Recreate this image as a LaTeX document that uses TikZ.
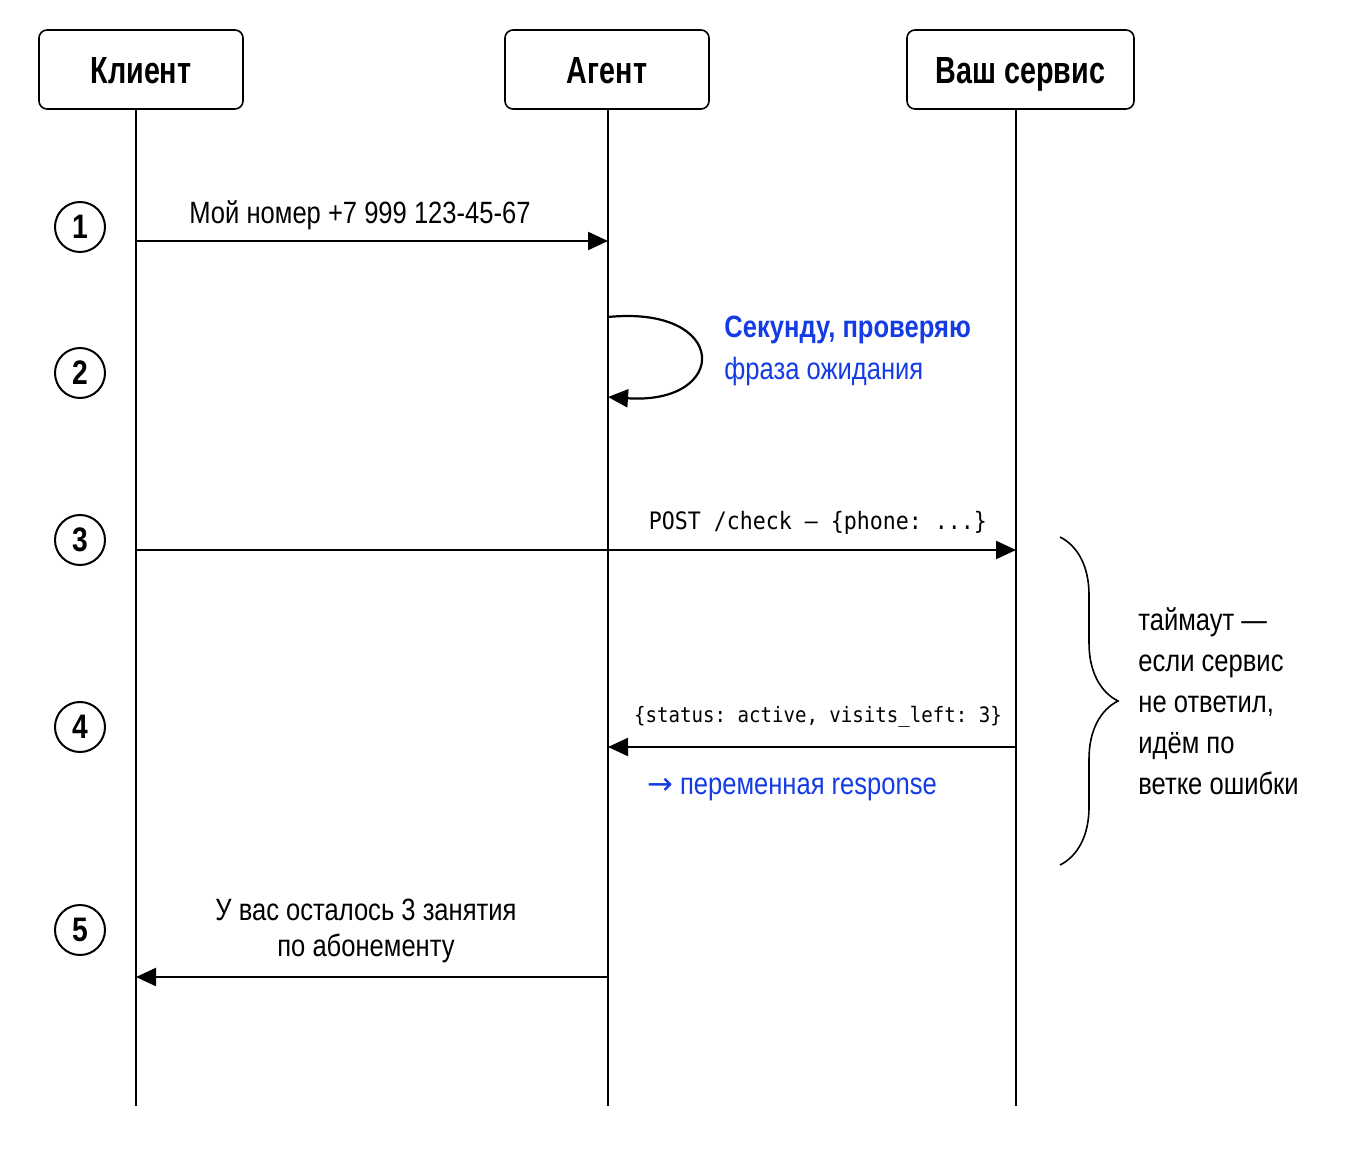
\documentclass[tikz,border=0pt]{standalone}
\usepackage{fontspec}
\setmainfont{Liberation Sans}[FakeStretch=0.83]
\newfontfamily\headfont{Liberation Sans}[FakeStretch=0.76]
\newfontfamily\codefont{DejaVu Sans Mono}[FakeStretch=0.9]
\newfontfamily\symfont{DejaVu Sans}
\usepackage{tikz}
\usetikzlibrary{positioning, arrows.meta, decorations.pathreplacing}
\definecolor{phraseblue}{RGB}{20,60,230}

\tikzset{
	every block/.style={draw, rounded corners=4pt, line width=0.8pt,
		minimum height=39.5pt, inner sep=0pt, text height=13.6pt, text depth=0pt,
		font=\headfont\fontsize{18.9}{22}\selectfont\bfseries},
	step num/.style={circle, draw, line width=1pt, minimum size=25pt,
		inner sep=0pt, font=\fontsize{17}{20}\selectfont\bfseries},
	lifeline/.style={line width=0.8pt},
	msg/.style={->, line width=1.1pt},
	msg label/.style={inner sep=0pt, font=\fontsize{15.4}{18}\selectfont},
	code label/.style={inner sep=0pt,
		font=\codefont\frenchspacing\fontsize{12}{15}\selectfont},
}

\begin{document}
\begin{tikzpicture}[x=0.5pt, y=-0.5pt, >={Triangle[length=10pt, width=9pt]}]

		\useasboundingbox (0,0) rectangle (1358,1159);

		% Participants
		\node [every block, minimum width=102pt] (client) at (141,69.5) {Клиент};
		\node [every block, minimum width=102pt] (agent) at (607,69.5) {Агент};
		\node [every block, minimum width=113.5pt] (service) at (1020.5,69.5) {Ваш сервис};

		% Lifelines
		\coordinate (client-end) at (136,1106);
		\coordinate (agent-end) at (608,1106);
		\coordinate (service-end) at (1016,1106);
		\foreach \p in {client, agent, service}
			\draw [lifeline] (\p-end |- \p.south) -- (\p-end);

		% Step numbers
		\foreach \y [count=\i] in {227, 373, 540, 727, 930}
			\node [step num] (num-\i) at (80,\y) {\i};

		% Message points
		\coordinate (client-1) at (136,241);
		\coordinate (agent-1) at (608,241);
		\coordinate (agent-2a) at (608,317);
		\coordinate (agent-2b) at (608,397);
		\coordinate (client-3) at (136,550);
		\coordinate (service-3) at (1016,550);
		\coordinate (service-4) at (1016,747);
		\coordinate (agent-4) at (608,747);
		\coordinate (agent-5) at (608,977);
		\coordinate (client-5) at (136,977);

		% 1
		\draw [msg] (client-1) --
			node [msg label, midway, above=5pt, xshift=-6pt] (lbl-1)
				{Мой номер +7 999 123-45-67}
			(agent-1);

		% 2
		\draw [msg] (agent-2a) .. controls (730,305) and (730,405) .. (agent-2b);
		\node [msg label, color=phraseblue, anchor=west, align=left,
			font=\fontsize{15.4}{21}\selectfont] (phrase) at (724,351) {
			\textbf{Секунду, проверяю}\\
			фраза ожидания
		};

		% 3
		\draw [msg] (client-3) --
			node [code label, pos=1, above left=7pt and 14pt] (lbl-3)
				{POST /check — \{phone: ...\}}
			(service-3);

		% 4
		\draw [msg] (service-4) --
			node [code label, midway, above=9pt, xshift=3pt,
				font=\codefont\frenchspacing\fontsize{10.6}{13}\selectfont] (lbl-4)
				{\{status: active, visits\char`\_left: 3\}}
			node [msg label, midway, below=15pt, xshift=-10pt,
				color=phraseblue] (resp)
				{{\symfont →} переменная response}
			(agent-4);

		% 5
		\draw [msg] (agent-5) --
			node [msg label, midway, above=6.5pt, xshift=-3pt, align=center,
				font=\fontsize{15.4}{18}\selectfont] (lbl-5) {
				У вас осталось 3 занятия\\
				по абонементу
			}
			(client-5);

		% Timeout brace
		\coordinate (br-top) at (1060,537);
		\coordinate (br-bot) at (1060,865);
		\draw [line width=0.8pt, decorate, decoration={brace, amplitude=29pt}]
			(br-top) -- (br-bot);
		\node [msg label, anchor=west, align=left,
			font=\fontsize{15.4}{20.5}\selectfont] (timeout) at (1138,701) {
			таймаут —\\
			если сервис\\
			не ответил,\\
			идём по\\
			ветке ошибки
		};

	\end{tikzpicture}
\end{document}
